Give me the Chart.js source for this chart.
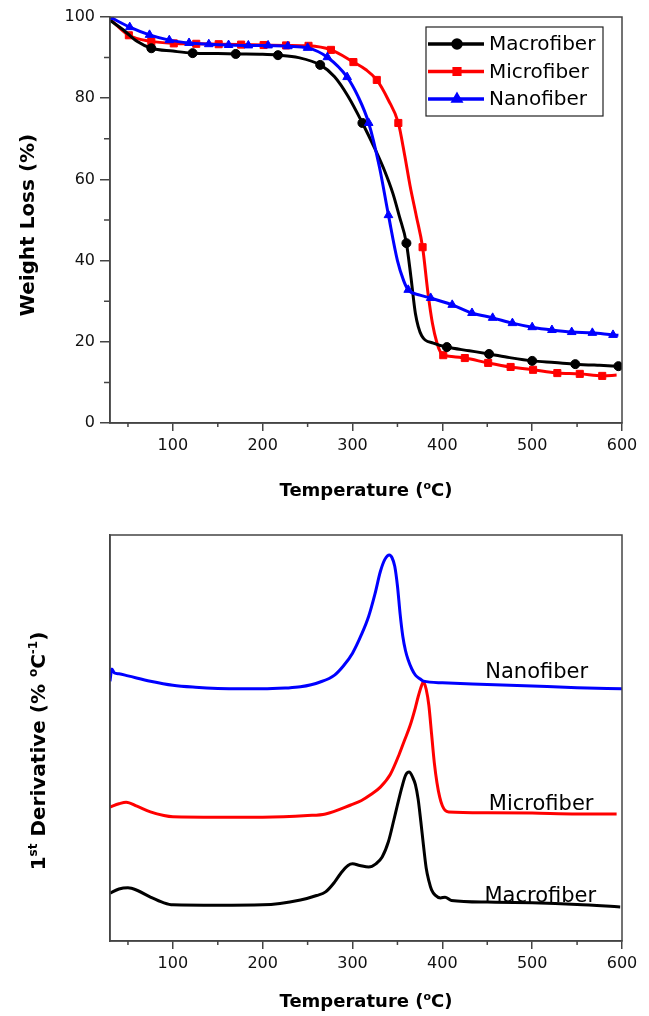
<!DOCTYPE html>
<html>
<head>
<meta charset="utf-8">
<script src="https://cdn.jsdelivr.net/npm/chart.js@4.4.1/dist/chart.umd.min.js"></script>
<style>
  body { margin: 0; background: #fff; }
  canvas { display: block; }
</style>
</head>
<body>
<canvas id="tgaChart" width="649" height="510"></canvas>
<canvas id="dtgChart" width="649" height="506"></canvas>
<script>
// TGA curves (weight loss %)
const seriesNames = ["Macrofiber", "Microfiber", "Nanofiber"];

const macroTemp   = [30, 45, 60, 76, 100, 122, 150, 170, 200, 217, 240, 264, 280, 295, 311, 325, 335, 345, 352, 360, 365, 370, 377, 390, 405, 430, 452, 475, 500, 525, 548, 575, 596];
const macroWeight = [99.2, 96.8, 94.0, 92.3, 91.6, 91.1, 91.0, 90.9, 90.8, 90.6, 90.0, 88.2, 85.3, 80.5, 73.9, 67.5, 62.5, 56.5, 51.0, 44.3, 36.0, 27.0, 21.5, 19.7, 18.7, 17.8, 17.0, 16.1, 15.3, 14.9, 14.5, 14.2, 14.0];
const macroMarks  = [76, 122, 170, 217, 264, 311, 360, 405, 452, 500, 548, 596];

const microTemp   = [30, 51, 76, 101, 126, 151, 176, 201, 226, 251, 276, 301, 315, 327, 340, 351, 358, 364, 371, 378, 384, 389, 394, 398, 401, 410, 425, 451, 476, 501, 528, 553, 578, 594];
const microWeight = [99.5, 95.5, 94.0, 93.5, 93.4, 93.3, 93.2, 93.1, 93.0, 92.9, 91.9, 88.9, 87.0, 84.5, 79.5, 73.9, 66.0, 58.5, 51.0, 43.3, 32.0, 24.5, 19.7, 17.4, 16.7, 16.4, 16.0, 14.8, 13.8, 13.1, 12.3, 12.1, 11.6, 11.8];
const microMarks  = [51, 76, 101, 126, 151, 176, 201, 226, 251, 276, 301, 327, 351, 378, 401, 425, 451, 476, 501, 528, 553, 578];

const nanoTemp    = [30, 52, 74, 96, 118, 140, 162, 184, 206, 228, 250, 272, 294, 306, 318, 330, 340, 350, 357, 362, 375, 387, 411, 433, 456, 478, 500, 522, 544, 567, 590, 596];
const nanoWeight  = [100, 97.5, 95.6, 94.3, 93.6, 93.3, 93.1, 93.0, 93.0, 92.8, 92.4, 90.1, 85.2, 80.5, 73.9, 63.0, 51.2, 40.0, 35.0, 32.8, 31.5, 30.8, 29.1, 27.1, 25.9, 24.6, 23.6, 22.9, 22.4, 22.2, 21.7, 21.6];
const nanoMarks   = [30, 52, 74, 96, 118, 140, 162, 184, 206, 228, 250, 272, 294, 318, 340, 362, 387, 411, 433, 456, 478, 500, 522, 544, 567, 590];

// DTG curves (1st derivative, arbitrary offset units) from the bottom panel
const dtgNanoTemp  = [30, 32, 35, 40, 50, 75, 100, 125, 150, 175, 200, 225, 242, 264, 280, 290, 300, 310, 318, 325, 331, 336, 341, 344, 347, 350, 353, 356, 359, 362, 366, 370, 375, 379, 400, 450, 500, 550, 600];
const dtgNanoVal   = [64.0, 67.0, 66.0, 65.8, 65.3, 64.0, 63.0, 62.5, 62.2, 62.1, 62.1, 62.3, 62.6, 63.8, 65.5, 67.8, 70.9, 75.5, 80.0, 85.5, 91.0, 94.0, 95.1, 94.4, 92.3, 87.5, 80.5, 75.0, 71.5, 69.2, 67.0, 65.5, 64.6, 64.0, 63.6, 63.2, 62.8, 62.4, 62.1];

const dtgMicroTemp = [30, 40, 48, 60, 75, 90, 100, 150, 200, 250, 270, 298, 310, 320, 331, 342, 352, 358, 364, 370, 373, 377, 379, 382, 385, 388, 391, 394, 397, 400, 403, 407, 450, 500, 550, 594];
const dtgMicroVal  = [33.0, 33.8, 34.2, 33.2, 31.8, 30.9, 30.6, 30.5, 30.5, 30.9, 31.3, 33.5, 34.6, 36.0, 37.9, 41.0, 46.0, 49.5, 53.0, 57.5, 60.1, 63.0, 63.8, 62.0, 58.0, 51.0, 44.0, 39.0, 35.5, 33.3, 32.2, 31.8, 31.6, 31.5, 31.3, 31.3];

const dtgMacroTemp = [30, 40, 50, 60, 75, 90, 100, 150, 200, 242, 260, 270, 280, 287, 295, 300, 308, 318, 326, 333, 340, 346, 350, 355, 359, 363, 367, 370, 373, 376, 379, 382, 385, 388, 392, 398, 403, 410, 450, 500, 550, 598];
const dtgMacroVal  = [11.8, 12.8, 13.1, 12.5, 10.8, 9.4, 8.9, 8.8, 8.9, 10.1, 11.2, 12.1, 14.5, 16.7, 18.6, 19.0, 18.6, 18.2, 19.0, 20.7, 24.5, 29.8, 33.5, 37.9, 40.8, 41.6, 40.3, 38.5, 35.0, 29.5, 23.5, 18.0, 14.8, 12.6, 11.3, 10.6, 10.8, 10.0, 9.6, 9.4, 9.0, 8.4];

// axis ticks
const xMinorTicks = [50, 150, 250, 350, 450, 550];
const yMinorTicks = [10, 30, 50, 70, 90];

const axisColor = "#444";
const textColor = "#111";
Chart.defaults.font.family = '"DejaVu Sans", sans-serif';
Chart.defaults.color = textColor;

function toPoints(xs, ys) {
    return xs.map((x, i) => ({ x: x, y: ys[i] }));
}

// titles with superscripts, drawn as real canvas text
function drawRich(ctx, parts, cx, cy, size, vertical) {
    ctx.save();
    ctx.fillStyle = "#000";
    ctx.textBaseline = "alphabetic";
    ctx.textAlign = "left";
    const fonts = parts.map(p => `bold ${p.sup ? Math.round(size * 0.62) : size}px "DejaVu Sans"`);
    let total = 0;
    parts.forEach((p, i) => { ctx.font = fonts[i]; total += ctx.measureText(p.t).width; });
    ctx.translate(cx, cy);
    if (vertical) ctx.rotate(-Math.PI / 2);
    let x = -total / 2;
    const base = size * 0.36;
    parts.forEach((p, i) => {
        ctx.font = fonts[i];
        ctx.fillText(p.t, x, p.sup ? base - size * 0.42 : base);
        x += ctx.measureText(p.t).width;
    });
    ctx.restore();
}

// box round the plot + short minor ticks
const frameAndMinor = {
    id: "frameAndMinor",
    afterDraw(chart, args, opts) {
        const { ctx, chartArea: a, scales } = chart;
        ctx.save();
        ctx.strokeStyle = axisColor;
        ctx.lineWidth = 1.5;
        ctx.strokeRect(a.left, a.top, a.right - a.left, a.bottom - a.top);
        ctx.beginPath();
        xMinorTicks.forEach(v => {
            const px = scales.x.getPixelForValue(v);
            ctx.moveTo(px, a.bottom);
            ctx.lineTo(px, a.bottom + 4);
        });
        if (opts.yMinor) {
            yMinorTicks.forEach(v => {
                const py = scales.y.getPixelForValue(v);
                ctx.moveTo(a.left, py);
                ctx.lineTo(a.left - 6, py);
            });
        }
        ctx.stroke();
        ctx.restore();
    }
};

// axis titles
const axisTitles = {
    id: "axisTitles",
    afterDraw(chart, args, opts) {
        const { ctx, chartArea: a } = chart;
        const midX = (a.left + a.right) / 2;
        const midY = (a.top + a.bottom) / 2;
        drawRich(ctx, [{ t: "Temperature (" }, { t: "o", sup: true }, { t: "C)" }], midX, a.bottom + opts.xOffset, 18, false);
        drawRich(ctx, opts.yParts, opts.yX, midY + opts.yShift, 20, true);
    }
};

// legend: line sample with marker + name, inside a box
const boxLegend = {
    id: "boxLegend",
    afterDraw(chart) {
        const { ctx, chartArea: a } = chart;
        const w = 177, h = 89;
        const bx = a.right - 19 - w, by = a.top + 10;
        ctx.save();
        ctx.strokeStyle = "#222";
        ctx.lineWidth = 1.2;
        ctx.strokeRect(bx, by, w, h);
        chart.data.datasets.forEach((ds, i) => {
            const y = by + 17 + i * 27.5;
            ctx.strokeStyle = ds.borderColor;
            ctx.lineWidth = 3.5;
            ctx.beginPath();
            ctx.moveTo(bx + 2, y);
            ctx.lineTo(bx + 58, y);
            ctx.stroke();
            ctx.fillStyle = ds.borderColor;
            Chart.helpers.drawPoint(ctx, { pointStyle: ds.pointStyle, radius: 4, rotation: 0, borderWidth: 1 }, bx + 31, y);
            ctx.fillStyle = "#000";
            ctx.font = '20px "DejaVu Sans"';
            ctx.textBaseline = "middle";
            ctx.fillText(ds.label, bx + 63, y + 1);
        });
        ctx.restore();
    }
};

// curve names on the DTG panel
const curveNames = {
    id: "curveNames",
    afterDraw(chart, args, opts) {
        const { ctx, scales } = chart;
        ctx.save();
        ctx.fillStyle = "#000";
        ctx.font = '21px "DejaVu Sans"';
        ctx.textAlign = "center";
        ctx.textBaseline = "alphabetic";
        opts.items.forEach(it => {
            ctx.fillText(it.text, scales.x.getPixelForValue(it.x), scales.y.getPixelForValue(it.y));
        });
        ctx.restore();
    }
};

function xAxis(height) {
    return {
        type: "linear",
        min: 30,
        max: 600,
        afterFit: s => { s.height = height; },
        border: { display: true, color: axisColor, width: 1.5 },
        grid: { drawOnChartArea: false, drawTicks: true, tickLength: 8, color: axisColor, lineWidth: 1.5 },
        ticks: { stepSize: 100, includeBounds: false, padding: 5, color: textColor, font: { size: 16 } },
        title: { display: false }
    };
}

// ---- top: TGA ----
new Chart(document.getElementById("tgaChart").getContext("2d"), {
    type: "line",
    data: {
        datasets: [
            {
                label: seriesNames[0],
                data: toPoints(macroTemp, macroWeight),
                borderColor: "#000000",
                backgroundColor: "#000000",
                pointStyle: "circle",
                pointRadius: c => macroMarks.includes(c.raw && c.raw.x) ? 4.5 : 0,
                order: 2
            },
            {
                label: seriesNames[1],
                data: toPoints(microTemp, microWeight),
                borderColor: "#ff0000",
                backgroundColor: "#ff0000",
                pointStyle: "rect",
                pointRadius: c => microMarks.includes(c.raw && c.raw.x) ? 5 : 0,
                order: 3
            },
            {
                label: seriesNames[2],
                data: toPoints(nanoTemp, nanoWeight),
                borderColor: "#0000ff",
                backgroundColor: "#0000ff",
                pointStyle: "triangle",
                pointRadius: c => nanoMarks.includes(c.raw && c.raw.x) ? 5 : 0,
                order: 1
            }
        ]
    },
    options: {
        responsive: false,
        animation: false,
        devicePixelRatio: 1,
        layout: { padding: { top: 17, right: 27, left: 0, bottom: 0 } },
        elements: {
            line: { borderWidth: 3, cubicInterpolationMode: "monotone" },
            point: { borderWidth: 1, hoverRadius: 0 }
        },
        scales: {
            x: xAxis(87),
            y: {
                min: 0,
                max: 100,
                afterFit: s => { s.width = 110; },
                border: { display: true, color: axisColor, width: 1.5 },
                grid: { drawOnChartArea: false, tickLength: 10, color: axisColor, lineWidth: 1.5 },
                ticks: { stepSize: 20, padding: 5, color: textColor, font: { size: 16 } },
                title: { display: false }
            }
        },
        plugins: {
            legend: { display: false },
            tooltip: { enabled: false },
            frameAndMinor: { yMinor: true },
            axisTitles: { xOffset: 67, yX: 27, yShift: 5, yParts: [{ t: "Weight Loss (%)" }] }
        }
    },
    plugins: [frameAndMinor, axisTitles, boxLegend]
});

// ---- bottom: DTG ----
new Chart(document.getElementById("dtgChart").getContext("2d"), {
    type: "line",
    data: {
        datasets: [
            { label: "Nanofiber", data: toPoints(dtgNanoTemp, dtgNanoVal), borderColor: "#0000ff" },
            { label: "Microfiber", data: toPoints(dtgMicroTemp, dtgMicroVal), borderColor: "#ff0000" },
            { label: "Macrofiber", data: toPoints(dtgMacroTemp, dtgMacroVal), borderColor: "#000000" }
        ]
    },
    options: {
        responsive: false,
        animation: false,
        devicePixelRatio: 1,
        layout: { padding: { top: 25, right: 27, left: 0, bottom: 0 } },
        elements: {
            line: { borderWidth: 3, cubicInterpolationMode: "monotone" },
            point: { radius: 0, hoverRadius: 0 }
        },
        scales: {
            x: xAxis(75),
            y: {
                min: 0,
                max: 100,
                afterFit: s => { s.width = 110; },
                border: { display: true, color: axisColor, width: 1.5 },
                grid: { drawOnChartArea: false, drawTicks: false },
                ticks: { display: false },
                title: { display: false }
            }
        },
        plugins: {
            legend: { display: false },
            tooltip: { enabled: false },
            frameAndMinor: { yMinor: false },
            axisTitles: {
                xOffset: 60, yX: 38, yShift: 13,
                yParts: [{ t: "1" }, { t: "st", sup: true }, { t: " Derivative (% " }, { t: "o", sup: true }, { t: "C" }, { t: "-1", sup: true }, { t: ")" }]
            },
            curveNames: {
                items: [
                    { text: "Nanofiber", x: 505, y: 64.8 },
                    { text: "Microfiber", x: 510, y: 32.3 },
                    { text: "Macrofiber", x: 509, y: 9.6 }
                ]
            }
        }
    },
    plugins: [frameAndMinor, axisTitles, curveNames]
});
</script>
</body>
</html>
